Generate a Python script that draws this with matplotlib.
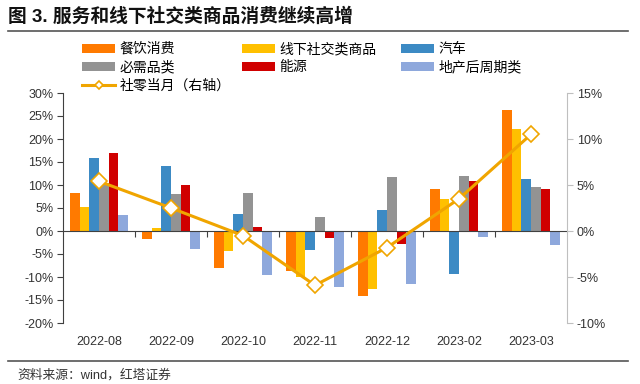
import matplotlib
matplotlib.use("Agg")
import matplotlib.pyplot as plt
import matplotlib.transforms as mtransforms
from matplotlib.lines import Line2D
from matplotlib.ticker import FuncFormatter
import numpy as np

plt.rcParams['font.family'] = ['Liberation Sans', 'Noto Sans CJK SC']
plt.rcParams['axes.unicode_minus'] = False

months = ['2022-08', '2022-09', '2022-10', '2022-11', '2022-12', '2023-02', '2023-03']

catering = [8.3, -1.7, -8.1, -8.7, -14.1, 9.1, 26.2]
offline_social = [5.2, 0.7, -4.3, -9.9, -12.5, 6.9, 22.2]
autos = [15.8, 14.1, 3.8, -4.1, 4.5, -9.4, 11.4]
necessities = [10.5, 8.0, 8.3, 3.1, 11.7, 11.9, 9.5]
energy = [17.0, 10.1, 0.8, -1.6, -2.9, 10.9, 9.2]
property_chain = [3.5, -4.0, -9.6, -12.1, -11.5, -1.2, -3.0]
retail_monthly = [5.4, 2.5, -0.5, -5.9, -1.8, 3.5, 10.5]

series = [
    ('餐饮消费', catering, '#FF7A00'),
    ('线下社交类商品', offline_social, '#FFC000'),
    ('汽车', autos, '#3C8AC4'),
    ('必需品类', necessities, '#939393'),
    ('能源', energy, '#D00000'),
    ('地产后周期类', property_chain, '#8EA8DC'),
]

fig = plt.figure(figsize=(6.4, 3.84), dpi=100)
ax = fig.add_axes((63 / 640, 1 - 323 / 384, 504 / 640, 230 / 384))
ax2 = ax.twinx()

x = np.arange(len(months))
w = 0.133
handles = {}
for k, (name, vals, col) in enumerate(series):
    b = ax.bar(x + (k - 2.5) * w, vals, width=w, color=col, label=name)
    handles[name] = b

ln, = ax2.plot(x, retail_monthly, color='#F0A500', lw=2.2, marker='D', ms=8,
               markerfacecolor='white', markeredgecolor='#F0A500', mew=1.2,
               label='社零当月（右轴）')

ax.set_xlim(-0.5, len(months) - 0.5)
ax.set_ylim(-20, 30)
ax.set_yticks(range(-20, 31, 5))
ax2.set_ylim(-10, 15)
ax2.set_yticks(range(-10, 16, 5))
pct = FuncFormatter(lambda v, p: f'{v:.0f}%')
ax.yaxis.set_major_formatter(pct)
ax2.yaxis.set_major_formatter(pct)

for a in (ax, ax2):
    a.spines['top'].set_visible(False)
    a.tick_params(axis='y', labelsize=9, colors='#333333', length=4, width=0.8,
                  direction='out', pad=3)
ax.spines['right'].set_visible(False)
ax2.spines['left'].set_visible(False)
ax2.spines['bottom'].set_visible(False)
ax.spines['left'].set_color('#404040')
ax2.spines['right'].set_color('#BFBFBF')
ax2.tick_params(axis='y', color='#BFBFBF', labelcolor='#333333')
ax.tick_params(axis='y', color='#404040')

ax.spines['bottom'].set_position(('data', 0))
ax.spines['bottom'].set_color('#404040')
ax.set_xticks(x[:-1] + 0.5)
ax.set_xticklabels([])
ax.tick_params(axis='x', length=4, width=0.8, color='#404040', direction='out')

trans = mtransforms.blended_transform_factory(ax.transData, ax.transAxes)
for i, m in enumerate(months):
    ax.text(i, -0.082, m, transform=trans, ha='center', va='center',
            fontsize=9, color='#333333')

cols = [
    (82, ['餐饮消费', '必需品类', None]),
    (242, ['线下社交类商品', '能源']),
    (401, ['汽车', '地产后周期类']),
]
for px, names in cols:
    hs, ls = [], []
    for n in names:
        if n is None:
            hs.append(ln)
            ls.append(ln.get_label())
        else:
            hs.append(handles[n])
            ls.append(n)
    fig.legend(hs, ls, loc='upper left', bbox_to_anchor=(px / 640, 1 - 42 / 384),
               frameon=False, borderpad=0, borderaxespad=0, markerscale=0.55,
               handlelength=2.4, handleheight=0.6, handletextpad=0.3,
               labelspacing=0.32, prop={'size': 10})

fig.text(8 / 640, 1 - 17 / 384, '图 3. 服务和线下社交类商品消费继续高增',
         fontsize=13.5, fontweight='bold', va='center', ha='left', color='#111111')
fig.add_artist(Line2D([8 / 640, 628 / 640], [1 - 31 / 384, 1 - 31 / 384],
                      color='#555555', lw=1.2))
fig.add_artist(Line2D([8 / 640, 628 / 640], [1 - 361 / 384, 1 - 361 / 384],
                      color='#555555', lw=1.2))
fig.text(17 / 640, 1 - 375 / 384, '资料来源：wind，红塔证券', fontsize=9.2,
         va='center', ha='left', color='#333333')

fig.savefig('out.png', dpi=100)
